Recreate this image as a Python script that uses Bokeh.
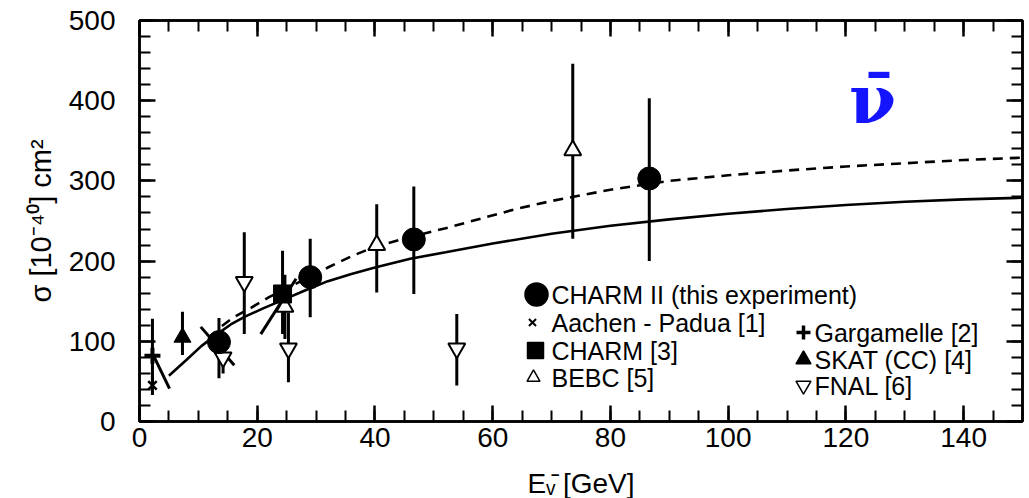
from bokeh.plotting import figure
from bokeh.models import Range1d, LinearAxis, Label, SingleIntervalTicker
from bokeh.embed import file_html
from bokeh.resources import INLINE
from bokeh.core.properties import value

# ---------------- data ----------------
charm2_E = [13.5, 29.0, 46.6, 86.6]
charm2_sig = [99, 180, 227, 303]
charm2_lo = [45, 50, 68, 103]
charm2_hi = [30, 48, 66, 100]

aachen_E = [2.2]
aachen_sig = [45]
aachen_lo = [12]
aachen_hi = [12]

garg_E = [2.2]
garg_sig = [82]
garg_lo = [40]
garg_hi = [46]

charm_E = [24.3]
charm_sig = [159]
charm_lo = [50]
charm_hi = [54]

skat_E = [7.3]
skat_sig = [105]
skat_lo = [22]
skat_hi = [32]

bebc_E = [24.7, 40.3, 73.6]
bebc_sig = [143, 220, 338]
bebc_lo = [40, 59, 110]
bebc_hi = [40, 51, 108]

fnal_E = [14.2, 17.8, 25.3, 53.9]
fnal_sig = [80, 174, 91, 91]
fnal_lo = [20, 65, 42, 46]
fnal_hi = [20, 62, 45, 43]

# slanted (correlated) error lines
diag_x0 = [2.2, 10.4, 20.6]
diag_y0 = [85, 118, 109]
diag_x1 = [5.1, 16.1, 26.6]
diag_y1 = [41, 70, 178]

# theory curves
solid_E = [5, 8, 10.5, 13, 15.5, 18, 21, 24.5, 28, 32, 36, 40, 46, 52, 60, 70, 80, 90, 100, 110, 120, 130, 140, 150]
solid_sig = [57, 77, 94, 108, 121, 131, 141, 152, 163, 175, 184, 192, 203, 211, 222, 234, 244, 252, 259, 265, 270, 274, 277, 279]
dash_E = [14, 16, 19, 22, 25, 28, 32, 36, 40, 46, 52, 58, 64, 70, 80, 90, 100, 110, 120, 130, 140, 150]
dash_sig = [119, 130, 142, 155, 166, 177, 192, 206, 218, 230, 241, 253, 265, 275, 289, 300, 307, 313, 318, 322, 326, 329]

x_ticks_interval = 20
y_ticks_interval = 100
x_title = "Eᵥ̄ [GeV]"
y_title = "σ [10⁻⁴⁰] cm²"

# ---------------- layout helpers (page pixels) ----------------
FL, FR, FT, FB = 139, 1022, 20, 421  # frame edges
XMIN, XMAX, YMIN, YMAX = 0, 150, 0, 500


def dx(px):
    return XMIN + (px - FL) / (FR - FL) * (XMAX - XMIN)


def dy(py):
    return YMIN + (FB - py) / (FB - FT) * (YMAX - YMIN)


FONT = "Liberation Sans"

p = figure(frame_width=FR - FL, frame_height=FB - FT,
           x_range=Range1d(XMIN, XMAX), y_range=Range1d(YMIN, YMAX),
           output_backend="svg", toolbar_location=None,
           min_border_left=FL, min_border_right=3,
           min_border_top=FT, min_border_bottom=498 - FB,
           background_fill_color="white", border_fill_color="white")
p.grid.visible = False
p.outline_line_color = "black"
p.outline_line_width = 2.5


def style_axis(ax, labels=True):
    ax.axis_line_width = 2.5
    ax.axis_line_color = "black"
    ax.major_tick_in = 16
    ax.major_tick_out = 0
    ax.minor_tick_in = 11
    ax.minor_tick_out = 0
    ax.major_tick_line_width = 2.5
    ax.minor_tick_line_width = 2
    ax.major_tick_line_color = "black"
    ax.minor_tick_line_color = "black"
    ax.major_label_text_font = FONT
    if labels:
        ax.major_label_text_font_size = "28px"
        ax.major_label_text_color = "black"
        ax.axis_label_text_font = FONT
        ax.axis_label_text_font_style = "normal"
        ax.axis_label_text_color = "black"
    else:
        ax.major_label_text_font_size = "1px"
        ax.major_label_text_color = None
        ax.major_label_standoff = 0


p.xaxis.ticker = SingleIntervalTicker(interval=x_ticks_interval, num_minor_ticks=4)
p.yaxis.ticker = SingleIntervalTicker(interval=y_ticks_interval, num_minor_ticks=5)
style_axis(p.xaxis[0])
style_axis(p.yaxis[0])
p.xaxis.major_label_standoff = 6
p.yaxis.major_label_standoff = 24

p.xaxis.axis_label = x_title
p.xaxis.axis_label_text_font_size = "28px"
p.xaxis.axis_label_standoff = 18
p.yaxis.axis_label = y_title
p.yaxis.axis_label_text_font_size = "29px"
p.yaxis.axis_label_standoff = 9

top = LinearAxis(ticker=SingleIntervalTicker(interval=x_ticks_interval, num_minor_ticks=4))
style_axis(top, labels=False)
p.add_layout(top, "above")
right = LinearAxis(ticker=SingleIntervalTicker(interval=y_ticks_interval, num_minor_ticks=5))
style_axis(right, labels=False)
p.add_layout(right, "right")

# curves
p.line(solid_E, solid_sig, line_color="black", line_width=2.6)
p.line(dash_E, dash_sig, line_color="black", line_width=2.6, line_dash="10 7")

# slanted error lines
p.segment(diag_x0, diag_y0, diag_x1, diag_y1, line_color="black", line_width=3)


def errbars(E, s, lo, hi):
    p.segment(E, [a - b for a, b in zip(s, lo)], E, [a + b for a, b in zip(s, hi)],
              line_color="black", line_width=3)


for E, s, lo, hi in [(charm2_E, charm2_sig, charm2_lo, charm2_hi),
                     (aachen_E, aachen_sig, aachen_lo, aachen_hi),
                     (garg_E, garg_sig, garg_lo, garg_hi),
                     (charm_E, charm_sig, charm_lo, charm_hi),
                     (skat_E, skat_sig, skat_lo, skat_hi),
                     (bebc_E, bebc_sig, bebc_lo, bebc_hi),
                     (fnal_E, fnal_sig, fnal_lo, fnal_hi)]:
    errbars(E, s, lo, hi)

# markers
p.scatter(fnal_E, fnal_sig, marker="inverted_triangle", size=17, fill_color="white", line_color="black", line_width=2)
p.scatter(bebc_E, bebc_sig, marker="triangle", size=17, fill_color="white", line_color="black", line_width=2)
p.scatter(skat_E, skat_sig, marker="triangle", size=17, fill_color="black", line_color="black")
p.scatter(charm_E, charm_sig, marker="square", size=18, fill_color="black", line_color="black")
p.scatter(garg_E, garg_sig, marker="cross", size=16, line_color="black", line_width=4)
p.scatter(aachen_E, aachen_sig, marker="x", size=12, line_color="black", line_width=2.5)
p.scatter(charm2_E, charm2_sig, marker="circle", size=23, fill_color="black", line_color="black")

# legend (manual)
LEG_FS = "25px"
left_rows = [(536, 294, "circle", 23, "black", "CHARM II (this experiment)"),
             (532, 322, "x", 10, None, "Aachen - Padua [1]"),
             (535, 350, "square", 16, "black", "CHARM [3]"),
             (533, 377, "triangle", 13, "white", "BEBC [5]")]
right_rows = [(803, 332, "cross", 14, None, "Gargamelle [2]"),
              (803, 359, "triangle", 15, "black", "SKAT (CC) [4]"),
              (803, 385, "inverted_triangle", 15, "white", "FNAL [6]")]
for rows, tx in [(left_rows, 551), (right_rows, 814)]:
    for mx, my, mk, ms, fc, txt in rows:
        lw = 3.5 if mk == "cross" else 2
        if fc is None:
            p.scatter([dx(mx)], [dy(my)], marker=mk, size=ms, line_color="black", line_width=lw)
        else:
            p.scatter([dx(mx)], [dy(my)], marker=mk, size=ms, fill_color=fc, line_color="black", line_width=1.5)
        p.text([dx(tx)], [dy(my)], text=[txt], text_font=value(FONT), text_font_size=LEG_FS,
               text_baseline="middle", text_align="left", text_color="black")

# blue nu-bar
p.add_layout(Label(x=dx(872), y=dy(98), text="ν̄", text_align="center", text_baseline="middle",
                   text_font="DejaVu Serif", text_font_style="bold", text_font_size="68px",
                   text_color="#1414ff"))

open("out.html", "w").write(file_html(p, INLINE))
